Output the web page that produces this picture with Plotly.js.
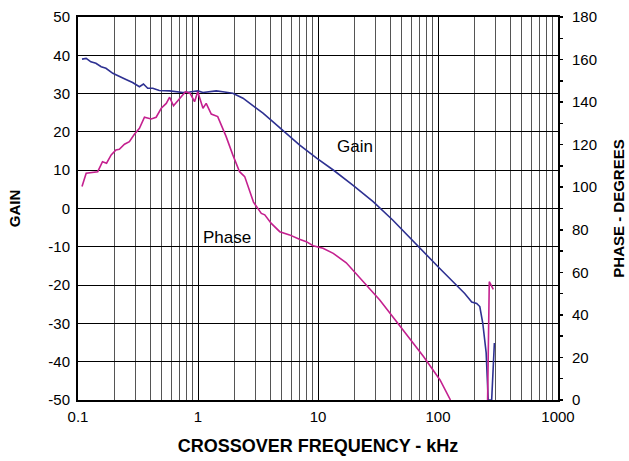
<!DOCTYPE html>
<html>
<head>
<meta charset="utf-8">
<script src="https://cdn.plot.ly/plotly-3.0.1.min.js"></script>
<style>html,body{margin:0;padding:0;background:#fff;}#chart{width:629px;height:461px;}</style>
</head>
<body>
<div id="chart"></div>
<script>
// Gain curve (kHz, dB)
const gainFreq = [0.108, 0.117, 0.128, 0.141, 0.156, 0.171, 0.195, 0.221, 0.251, 0.285, 0.325, 0.351, 0.381, 0.42, 0.476, 0.58, 0.748, 0.85, 0.999, 1.1, 1.42, 1.61, 1.95, 2.37, 2.86, 3.48, 4.2, 5.1, 7.0, 9.8, 13.4, 19.5, 28.8, 41.9, 70.6, 103, 167, 191, 210, 223, 236, 252, 262, 280, 295];
const gainVals = [39.0, 39.2, 38.3, 37.9, 37.0, 36.6, 35.3, 34.6, 33.7, 32.9, 31.8, 32.5, 31.4, 31.4, 30.8, 30.7, 30.3, 30.4, 30.7, 30.3, 30.7, 30.5, 30.1, 28.8, 27.0, 24.9, 22.7, 20.3, 16.6, 13.1, 10.05, 6.1, 1.8, -3.0, -10.4, -15.6, -22.2, -24.4, -24.8, -25.6, -29.9, -37.7, -50, -50, -35.1];
// Phase curve (kHz, degrees)
const phaseFreq = [0.108, 0.117, 0.146, 0.16, 0.173, 0.189, 0.207, 0.221, 0.244, 0.268, 0.295, 0.325, 0.358, 0.407, 0.448, 0.494, 0.544, 0.58, 0.625, 0.70, 0.787, 0.86, 0.936, 0.995, 1.1, 1.17, 1.29, 1.46, 1.71, 1.95, 2.22, 2.45, 2.9, 3.37, 3.6, 4.08, 4.47, 4.8, 5.8, 7.0, 8.0, 9.1, 11, 13.4, 17.2, 23, 32.7, 49.8, 75.7, 104, 127, null, 259, 267.5, 289];
const phaseVals = [100.3, 106.6, 107.3, 112, 111.3, 115.2, 117.5, 117.8, 120.2, 121.4, 124.9, 127.7, 132.9, 132.1, 132.9, 137.1, 139.4, 142.3, 138.3, 141.8, 144.9, 144.1, 140.2, 144.9, 137.1, 139.4, 134.4, 133.2, 124, 115.2, 107.3, 105, 93, 87.7, 87, 83, 80.7, 79.1, 77.6, 75.5, 74.4, 72.5, 71.3, 68.9, 64.5, 56.7, 47, 33.7, 20.4, 9.4, 0, null, 0, 55.6, 52];
// Tick labels
const xTickVals = [0.1, 1, 10, 100, 1000];
const xTickText = ["0.1", "1", "10", "100", "1000"];
const gainTickVals = [-50, -40, -30, -20, -10, 0, 10, 20, 30, 40, 50];
const gainTickText = ["-50", "-40", "-30", "-20", "-10", "0", "10", "20", "30", "40", "50"];

const FONT = "Arial, 'Liberation Sans', sans-serif";
const gainColor = "#2e3192";
const phaseColor = "#c4208f";

const data = [
  {x: gainFreq, y: gainVals, type: "scatter", mode: "lines", line: {color: gainColor, width: 1.6}, yaxis: "y", connectgaps: false, hoverinfo: "skip"},
  {x: phaseFreq, y: phaseVals, type: "scatter", mode: "lines", line: {color: phaseColor, width: 1.6}, yaxis: "y2", connectgaps: false, hoverinfo: "skip"}
];

const layout = {
  width: 629, height: 461,
  margin: {l: 78, r: 71, t: 17, b: 61},
  paper_bgcolor: "#fff", plot_bgcolor: "#fff",
  showlegend: false,
  font: {family: FONT, size: 15, color: "#000"},
  xaxis: {
    type: "log", range: [-1, 3],
    tickvals: xTickVals, ticktext: xTickText,
    showgrid: true, gridcolor: "#000", gridwidth: 1,
    minor: {dtick: "D1", showgrid: true, gridcolor: "#555", gridwidth: 1, ticks: ""},
    ticks: "", showline: true, linecolor: "#000", linewidth: 2, mirror: true,
    zeroline: false, ticklabelstandoff: 2,
    tickfont: {family: FONT, size: 15},
    title: {text: "CROSSOVER FREQUENCY - kHz", font: {family: FONT, size: 18, weight: "bold"}, standoff: 15}
  },
  yaxis: {
    range: [-50, 50], tickvals: gainTickVals, ticktext: gainTickText,
    showgrid: true, gridcolor: "#000", gridwidth: 1,
    ticks: "", showline: true, linecolor: "#000", linewidth: 2,
    zeroline: false, ticklabelstandoff: 3,
    tickfont: {family: FONT, size: 15},
    title: {text: "GAIN", font: {family: FONT, size: 15, weight: "bold"}, standoff: 24}
  },
  yaxis2: {
    range: [0, 180], dtick: 20, overlaying: "y", side: "right",
    showgrid: false, zeroline: false,
    ticks: "outside", ticklen: 3, tickwidth: 1.5, tickcolor: "#000",
    minor: {dtick: 10, ticks: "outside", ticklen: 3, tickwidth: 1.5, tickcolor: "#000"},
    showline: true, linecolor: "#000", linewidth: 2, ticklabelstandoff: 6,
    tickfont: {family: FONT, size: 15},
    title: {text: "PHASE - DEGREES", font: {family: FONT, size: 15, weight: "bold"}, standoff: 17}
  },
  yaxis3: {
    range: [0, 180], dtick: 10, overlaying: "y", side: "right",
    showgrid: false, zeroline: false, showticklabels: false,
    ticks: "inside", ticklen: 3, tickwidth: 1.5, tickcolor: "#000"
  },
  annotations: [
    {x: 1.306, y: 16.1, xref: "x", yref: "y", text: "Gain", showarrow: false, font: {family: FONT, size: 17, color: "#000"}},
    {x: 0.242, y: -7.7, xref: "x", yref: "y", text: "Phase", showarrow: false, font: {family: FONT, size: 17, color: "#000"}}
  ]
};

Plotly.newPlot("chart", data, layout, {staticPlot: true, displayModeBar: false});
</script>
</body>
</html>
